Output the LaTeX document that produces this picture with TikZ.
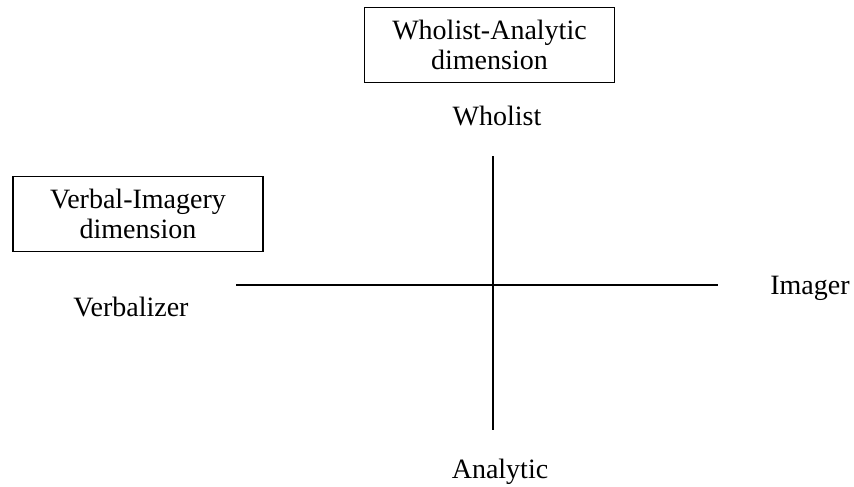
\documentclass[tikz,border=0pt]{standalone}
\usepackage{fontspec}
\setmainfont{Liberation Serif}
\begin{document}
\begin{tikzpicture}[x=1pt, y=-1pt]

    \tikzset{dimbox/.style={draw, line width=1.8pt, minimum width=250pt, minimum height=75pt, align=center, inner sep=0pt, font=\fontsize{28}{30}\selectfont}}
    \tikzset{polelabel/.style={anchor=base, inner sep=0pt, font=\fontsize{28}{30}\selectfont}}
    \tikzset{axis/.style={line width=2pt}}

    \useasboundingbox (0,0) rectangle (854,487);

    \node[dimbox] (wa) at (489.5, 45) {Wholist-Analytic\\dimension};
    \node[dimbox] (vi) at (138, 214) {Verbal-Imagery\\dimension};

    \node[polelabel] (wholist) at (497, 125) {Wholist};
    \node[polelabel] (analytic) at (500, 478) {Analytic};
    \node[polelabel] (verbalizer) at (131, 316) {Verbalizer};
    \node[polelabel] (imager) at (810, 294) {Imager};

    \coordinate (ytop) at (493, 156);
    \coordinate (ybot) at (493, 430);
    \coordinate (xleft) at (236, 285);
    \coordinate (xright) at (718, 285);

    \draw[axis] (ytop) -- (ybot);
    \draw[axis] (xleft) -- (xright);
\end{tikzpicture}
\end{document}
